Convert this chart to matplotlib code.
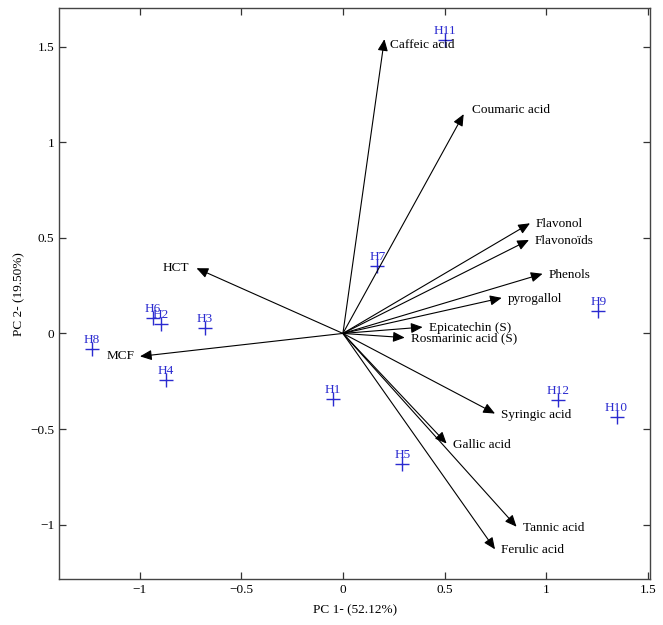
import matplotlib
matplotlib.use('Agg')
import matplotlib.pyplot as plt

plt.rcParams['font.family'] = ['Liberation Serif', 'DejaVu Serif']

# Variable loadings (arrow tips)
var_names = ['Caffeic acid', 'Coumaric acid', 'Flavonol', 'Flavonoïds', 'Phenols',
             'pyrogallol', 'Epicatechin (S)', 'Rosmarinic acid (S)', 'Syringic acid',
             'Gallic acid', 'Tannic acid', 'Ferulic acid', 'HCT', 'MCF']
var_pc1 = [0.204, 0.594, 0.92, 0.915, 0.982, 0.781, 0.392, 0.304, 0.748,
           0.51, 0.854, 0.748, -0.72, -0.998]
var_pc2 = [1.539, 1.147, 0.576, 0.489, 0.312, 0.186, 0.033, -0.022, -0.419,
           -0.576, -1.011, -1.129, 0.341, -0.12]

# Sample scores
sample_names = ['H1', 'H2', 'H3', 'H4', 'H5', 'H6', 'H7', 'H8', 'H9', 'H10', 'H11', 'H12']
sample_pc1 = [-0.05, -0.897, -0.679, -0.872, 0.292, -0.933, 0.169, -1.236, 1.256, 1.346, 0.5, 1.058]
sample_pc2 = [-0.341, 0.051, 0.030, -0.245, -0.684, 0.082, 0.355, -0.080, 0.115, -0.437, 1.535, -0.35]

# label offsets in pixels relative to arrow tip
label_offsets = {'Caffeic acid': (6, -6), 'Coumaric acid': (8, 4), 'HCT': (-7, 0), 'MCF': (-5, 0)}

fig = plt.figure(figsize=(6.63, 6.25), dpi=100)
ax = fig.add_axes([0.0894, 0.074, 0.8909, 0.9126])

blue = '#2a2ad0'
ax.plot(sample_pc1, sample_pc2, '+', color=blue, markersize=10, mew=1.0, linestyle='none')
for name, x, y in zip(sample_names, sample_pc1, sample_pc2):
    ax.annotate(name, (x, y), xytext=(0, 9), textcoords='offset pixels',
                ha='center', va='center', color=blue, fontsize=9.5)

for name, x, y in zip(var_names, var_pc1, var_pc2):
    ax.annotate('', xy=(x, y), xytext=(0, 0),
                arrowprops=dict(arrowstyle='-|>,head_length=0.5,head_width=0.22',
                                color='black', lw=0.8,
                                mutation_scale=14, shrinkA=0, shrinkB=0))
    dx, dy = label_offsets.get(name, (6, -1))
    ha = 'right' if dx < 0 else 'left'
    ax.annotate(name, (x, y), xytext=(dx, dy), textcoords='offset pixels',
                ha=ha, va='center', fontsize=9.5, color='black')

ax.set_xlim(-1.395, 1.51)
ax.set_ylim(-1.283, 1.70)
ax.set_xticks([-1, -0.5, 0, 0.5, 1, 1.5])
ax.set_xticklabels(['\u22121', '\u22120.5', '0', '0.5', '1', '1.5'])
ax.set_yticks([-1, -0.5, 0, 0.5, 1, 1.5])
ax.set_yticklabels(['\u22121', '\u22120.5', '0', '0.5', '1', '1.5'])
ax.tick_params(direction='in', top=True, right=True, length=5, width=0.9,
               labelsize=9.5, colors='#333333', labelcolor='black')
for s in ax.spines.values():
    s.set_color('#444444')
    s.set_linewidth(1.0)

ax.set_xlabel('PC 1- (52.12%)', fontsize=9.5, labelpad=6)
ax.set_ylabel('PC 2- (19.50%)', fontsize=9.5, labelpad=4)

plt.savefig('out.png', dpi=100)
